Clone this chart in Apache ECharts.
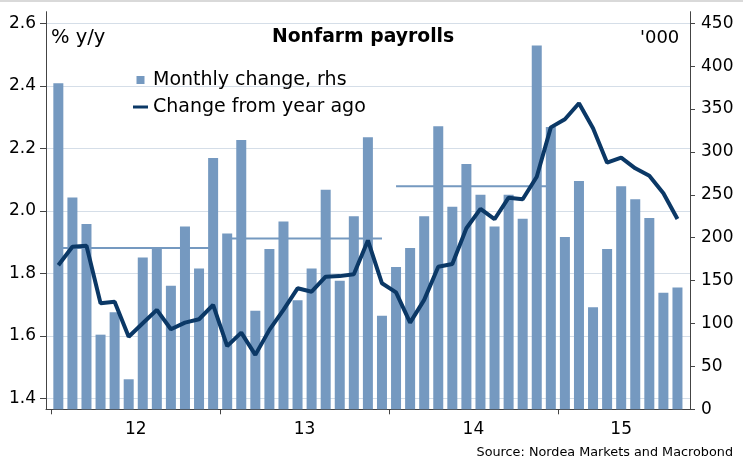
<!DOCTYPE html>
<html>
<head>
<meta charset="utf-8">
<script src="https://cdn.jsdelivr.net/npm/echarts@6/dist/echarts.min.js"></script>
<style>
html,body{margin:0;padding:0;background:#fff;}
#chart{width:743px;height:471px;}
</style>
</head>
<body>
<div id="chart"></div>
<script>
// ---- data ----
const months = [
  '2012-01','2012-02','2012-03','2012-04','2012-05','2012-06','2012-07','2012-08','2012-09','2012-10','2012-11','2012-12',
  '2013-01','2013-02','2013-03','2013-04','2013-05','2013-06','2013-07','2013-08','2013-09','2013-10','2013-11','2013-12',
  '2014-01','2014-02','2014-03','2014-04','2014-05','2014-06','2014-07','2014-08','2014-09','2014-10','2014-11','2014-12',
  '2015-01','2015-02','2015-03','2015-04','2015-05','2015-06','2015-07','2015-08','2015-09'
];
// Monthly change, '000 (rhs)
const monthlyChange = [
  380, 247, 216, 87, 113, 35, 177, 188, 144, 213, 164, 293,
  205, 314, 115, 187, 219, 127, 164, 256, 150, 225, 317, 109,
  166, 188, 225, 330, 236, 286, 250, 213, 250, 222, 424, 329,
  201, 266, 119, 187, 260, 245, 223, 136, 142
];
// Change from year ago, % y/y (lhs)
const yoyChange = [
  1.826, 1.885, 1.888, 1.704, 1.709, 1.597, 1.640, 1.683, 1.621, 1.642, 1.653, 1.699,
  1.567, 1.610, 1.539, 1.619, 1.683, 1.752, 1.741, 1.789, 1.791, 1.797, 1.905, 1.768,
  1.739, 1.642, 1.715, 1.821, 1.830, 1.944, 2.006, 1.973, 2.042, 2.037, 2.109, 2.267,
  2.293, 2.344, 2.264, 2.154, 2.170, 2.136, 2.112, 2.056, 1.974
];
// Yearly average of monthly change ('000)
const years = ['2012', '2013', '2014', '2015'];
const yearAvg = [188, 199, 260, null];
const yearLabels = ['12', '13', '14', '15'];
const leftTicks = [1.4, 1.6, 1.8, 2.0, 2.2, 2.4, 2.6];
const rightTicks = [0, 50, 100, 150, 200, 250, 300, 350, 400, 450];

// ---- derived ----
const yearStart = years.map(y => months.findIndex(m => m.startsWith(y)));
const yearEnd = years.map((y, i) => {
  let last = -1; months.forEach((m, j) => { if (m.startsWith(y)) last = j; }); return last;
});
const yearLabelPos = years.map((y, i) => (yearStart[i] + yearEnd[i] + 1) / 2);
const avgSeries = years.map((y, i) => {
  if (yearAvg[i] == null) return null;
  return months.map((m, j) => (j >= yearStart[i] && j <= yearEnd[i]) ? yearAvg[i] : '-');
}).filter(Boolean);

const BAR = '#7599C0';
const LINE = '#0B3866';
const FONT = 'DejaVu Sans';
const GRID_TOP = 11.7, GRID_BOTTOM = 471 - 409.3;
const L_MIN = 1.3648, L_MAX = 2.6371, R_MAX = 463.5;

const chart = echarts.init(document.getElementById('chart'), null, {renderer: 'canvas'});
const option = {
  backgroundColor: '#fff',
  animation: false,
  textStyle: {fontFamily: FONT},
  graphic: [
    {type: 'rect', shape: {x: 0, y: 0, width: 743, height: 2}, style: {fill: '#D9D9D9'}, silent: true}
  ],
  title: [
    {text: 'Nonfarm payrolls', left: 272, top: 28, padding: 0,
     textStyle: {fontFamily: FONT, fontWeight: 'bold', fontSize: 18.8, color: '#000'}},
    {text: '% y/y', left: 51, top: 28, padding: 0,
     textStyle: {fontFamily: FONT, fontWeight: 'normal', fontSize: 19.5, color: '#000'}},
    {text: "'000", left: 640, top: 29, padding: 0,
     textStyle: {fontFamily: FONT, fontWeight: 'normal', fontSize: 18, color: '#000'}},
    {text: 'Source: Nordea Markets and Macrobond', right: 10, top: 446, padding: 0,
     textStyle: {fontFamily: FONT, fontWeight: 'normal', fontSize: 12.8, color: '#000'}}
  ],
  legend: {
    orient: 'vertical', left: 133, top: 70, padding: 0,
    itemWidth: 15, itemHeight: 8, itemGap: 7,
    textStyle: {fontFamily: FONT, fontSize: 19, color: '#000', lineHeight: 20},
    data: [
      {name: 'Monthly change, rhs', icon: 'path://M0,0h8v8h-8z', itemStyle: {color: BAR}},
      {name: 'Change from year ago', icon: 'path://M0,0h15v3h-15z', itemStyle: {color: LINE}}
    ]
  },
  grid: [
    {left: 46, right: 743 - 690, top: GRID_TOP, bottom: GRID_BOTTOM, containLabel: false},
    {left: 51.3, right: 743 - 684.5, top: GRID_TOP, bottom: GRID_BOTTOM, containLabel: false}
  ],
  xAxis: [
    {gridIndex: 0, type: 'value', min: 0, max: 1, position: 'bottom',
     axisLine: {show: true, lineStyle: {color: '#444', width: 1}},
     axisTick: {show: false}, axisLabel: {show: false}, splitLine: {show: false}},
    {gridIndex: 1, type: 'category', data: months, show: false, boundaryGap: true},
    {gridIndex: 1, type: 'value', min: 0, max: months.length, position: 'bottom',
     axisLine: {show: false},
     axisTick: {show: true, customValues: yearStart, length: 5, lineStyle: {color: '#444'}},
     axisLabel: {show: true, customValues: yearLabelPos, margin: 12,
       formatter: v => yearLabels[yearLabelPos.indexOf(v)] ?? '',
       fontFamily: FONT, fontSize: 17, color: '#000'},
     splitLine: {show: false}}
  ],
  yAxis: [
    {gridIndex: 0, type: 'value', position: 'left', min: L_MIN, max: L_MAX,
     axisLine: {show: true, lineStyle: {color: '#444'}},
     axisTick: {show: true, customValues: leftTicks, length: 6, lineStyle: {color: '#444'}},
     axisLabel: {show: true, customValues: leftTicks, margin: 10, formatter: v => v.toFixed(1),
       fontFamily: FONT, fontSize: 17, color: '#000'},
     splitLine: {show: true, lineStyle: {color: '#D5DEE8', width: 1}}},
    {gridIndex: 0, type: 'value', position: 'right', min: 0, max: R_MAX,
     axisLine: {show: true, lineStyle: {color: '#444'}},
     axisTick: {show: true, customValues: rightTicks, length: 5, lineStyle: {color: '#444'}},
     axisLabel: {show: true, customValues: rightTicks, margin: 11,
       fontFamily: FONT, fontSize: 17, color: '#000'},
     splitLine: {show: false}},
    {gridIndex: 1, type: 'value', min: L_MIN, max: L_MAX, show: false, splitLine: {show: false}},
    {gridIndex: 1, type: 'value', min: 0, max: R_MAX, show: false, splitLine: {show: false}}
  ],
  series: [
    ...avgSeries.map(d => ({
      type: 'line', xAxisIndex: 1, yAxisIndex: 3, data: d, symbol: 'none', z: 1,
      lineStyle: {color: BAR, width: 2}, itemStyle: {color: BAR}, silent: true
    })),
    {name: 'Monthly change, rhs', type: 'bar', xAxisIndex: 1, yAxisIndex: 3, data: monthlyChange,
     barWidth: 10, itemStyle: {color: BAR}, z: 2},
    {name: 'Change from year ago', type: 'line', xAxisIndex: 1, yAxisIndex: 2, data: yoyChange,
     symbol: 'none', lineStyle: {color: LINE, width: 4}, itemStyle: {color: LINE}, z: 3}
  ]
};
chart.setOption(option);
</script>
</body>
</html>
